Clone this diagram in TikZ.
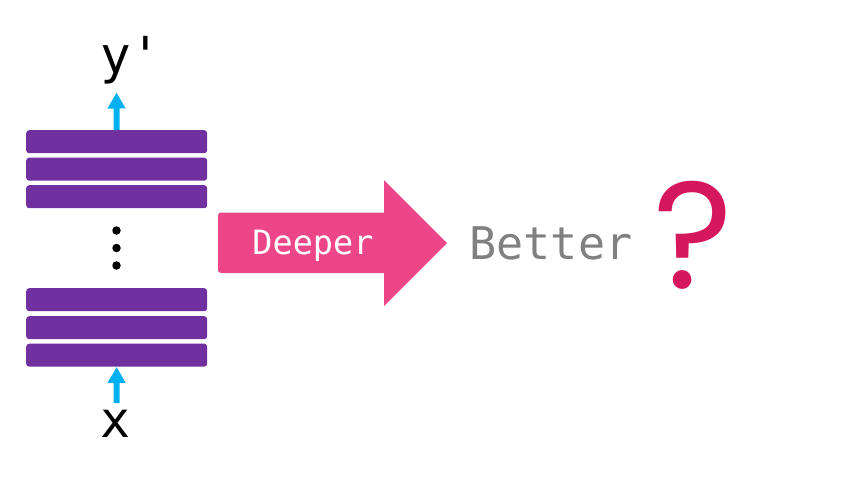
\documentclass[tikz,border=0pt]{standalone}
\usepackage{fontspec}
\setmonofont{DejaVu Sans Mono}
\newfontfamily\askfont{Poppins}
\usetikzlibrary{arrows.meta}
\definecolor{layerpurple}{HTML}{7030A0}
\definecolor{flowcyan}{HTML}{00B0F0}
\definecolor{deeppink}{HTML}{EC4689}
\definecolor{askred}{HTML}{D5175E}
\definecolor{bettergray}{HTML}{808080}
\begin{document}
\begin{tikzpicture}[x=1pt,y=-1pt,
  layer/.style={fill=layerpurple,rounded corners=3pt,minimum width=181pt,minimum height=23pt,inner sep=0pt,anchor=north west},
  flow/.style={draw=flowcyan,line width=6pt,-{Triangle[width=17pt,length=16pt]}},
  dot/.style={circle,fill=black,inner sep=0pt,minimum size=8.5pt}]
\useasboundingbox (0,0) rectangle (846,488);

% layers
\foreach \i/\y in {1/130,2/157.5,3/185}
  \node[layer] (top\i) at (26,\y) {};
\foreach \i/\y in {1/288,2/316,3/343.5}
  \node[layer] (bot\i) at (26,\y) {};

% dots
\foreach \i/\y in {1/230.5,2/248,3/265.5}
  \node[dot] (dot\i) at (116.5,\y) {};

% input and output
\node[font=\ttfamily\fontsize{51}{51}\selectfont,anchor=base,inner sep=0pt] (yout) at (131,73) {y\textquotesingle};
\node[font=\ttfamily\fontsize{50}{50}\selectfont,anchor=base,inner sep=0pt] (xin) at (115.5,437) {x};
\coordinate (ytip) at (116.5,92.5);
\coordinate (xtail) at (116.5,403);
\draw[flow] (top1.north) -- (ytip);
\draw[flow] (xtail) -- (bot3.south);

% deeper arrow
\fill[deeppink,rounded corners=3pt] (218,212.5) rectangle (390,273);
\fill[deeppink] (447,243) -- (384,180) -- (384,306) -- cycle;
\node[font=\ttfamily\fontsize{33.5}{33.5}\selectfont,text=white,anchor=base,inner sep=0pt] (deeper) at (313,254) {Deeper};

% result
\node[font=\ttfamily\fontsize{45}{45}\selectfont,text=bettergray,anchor=base,inner sep=0pt] (better) at (551,259) {Better};
\node[font=\askfont\fontsize{152}{152}\selectfont,text=askred,anchor=base,inner sep=0pt] (ask) at (693,288) {?};

\end{tikzpicture}
\end{document}
